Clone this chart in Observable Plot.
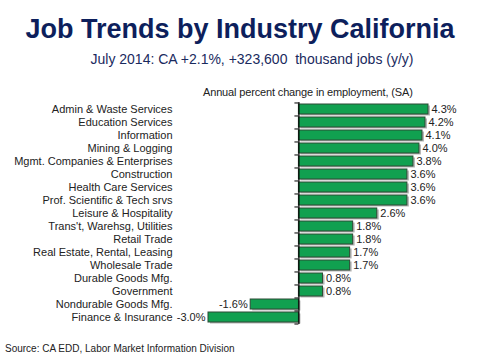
<!DOCTYPE html>
<html><head><meta charset="utf-8">
<script src="https://cdn.jsdelivr.net/npm/d3@7"></script>
<script src="https://cdn.jsdelivr.net/npm/@observablehq/plot@0.6"></script>
<style>
body{margin:0;background:#fff;font-family:"Liberation Sans",Arial,sans-serif;}
#wrap{position:relative;width:480px;height:360px;overflow:hidden;background:#fff}
.t{position:absolute;white-space:pre;}
#title{left:0;width:480px;top:13px;text-align:center;font-weight:bold;font-size:27px;line-height:32px;color:#0d1f5c}
#sub{left:22px;width:460px;top:51px;text-align:center;font-size:14px;line-height:16px;color:#1a2a5e}
#xlab{left:203px;top:86px;font-size:11px;line-height:12px;color:#222;letter-spacing:-0.15px}
#src{left:5px;top:343px;font-size:10px;line-height:12px;color:#222}
#chart{position:absolute;left:0;top:96px}
</style></head>
<body><div id="wrap">
<div class="t" id="title">Job Trends by Industry California</div>
<div class="t" id="sub">July 2014: CA +2.1%, +323,600  thousand jobs (y/y)</div>
<div class="t" id="xlab">Annual percent change in employment, (SA)</div>
<div id="chart"></div>
<div class="t" id="src">Source: CA EDD, Labor Market Information Division</div>
</div>
<script>
const industries = [
  "Admin & Waste Services",
  "Education Services",
  "Information",
  "Mining & Logging",
  "Mgmt. Companies & Enterprises",
  "Construction",
  "Health Care Services",
  "Prof. Scientific & Tech srvs",
  "Leisure & Hospitality",
  "Trans't, Warehsg, Utilities",
  "Retail Trade",
  "Real Estate, Rental, Leasing",
  "Wholesale Trade",
  "Durable Goods Mfg.",
  "Government",
  "Nondurable Goods Mfg.",
  "Finance & Insurance"
];
const changes = [4.3, 4.2, 4.1, 4.0, 3.8, 3.6, 3.6, 3.6, 2.6, 1.8, 1.8, 1.7, 1.7, 0.8, 0.8, -1.6, -3.0];

const data = industries.map((name, i) => ({name, value: changes[i], label: changes[i].toFixed(1) + "%"}));
const font = "'Liberation Sans', Arial, sans-serif";

const chart = Plot.plot({
  width: 480,
  height: 232,
  marginTop: 6,
  marginBottom: 4,
  marginLeft: 208,
  marginRight: 52,
  style: {fontFamily: font, fontSize: "11px", color: "#222", background: "transparent"},
  x: {domain: [-3.0, 4.3], axis: null},
  y: {domain: industries, paddingInner: 0.2, paddingOuter: 0.1, axis: null, label: null},
  marks: [
    Plot.barX(data, {x: "value", y: "name", fill: "#b5b5b5", dx: 2, dy: 1.5}),
    Plot.barX(data, {x: "value", y: "name", fill: "#11a050", stroke: "#2c4a34", strokeWidth: 1}),
    Plot.ruleX([0], {stroke: "#000", strokeWidth: 1.2}),
    Plot.ruleY(industries, {y: d => d, x1: 0, x2: 0, insetLeft: -4, dy: -6.53, stroke: "#000"}),
    Plot.ruleY(industries.slice(-1), {y: d => d, x1: 0, x2: 0, insetLeft: -4, dy: 6.53, stroke: "#000"}),
    Plot.axisY({tickSize: 0, tickPadding: 36, fontSize: 11, fill: "#222", label: null}),
    Plot.text(data.filter(d => d.value >= 0), {x: "value", y: "name", text: "label", textAnchor: "start", dx: 3, fontSize: 11, fill: "#222"}),
    Plot.text(data.filter(d => d.value < 0), {x: "value", y: "name", text: "label", textAnchor: "end", dx: -3, fontSize: 11, fill: "#222"})
  ]
});
document.getElementById("chart").appendChild(chart);
</script>
</body></html>
